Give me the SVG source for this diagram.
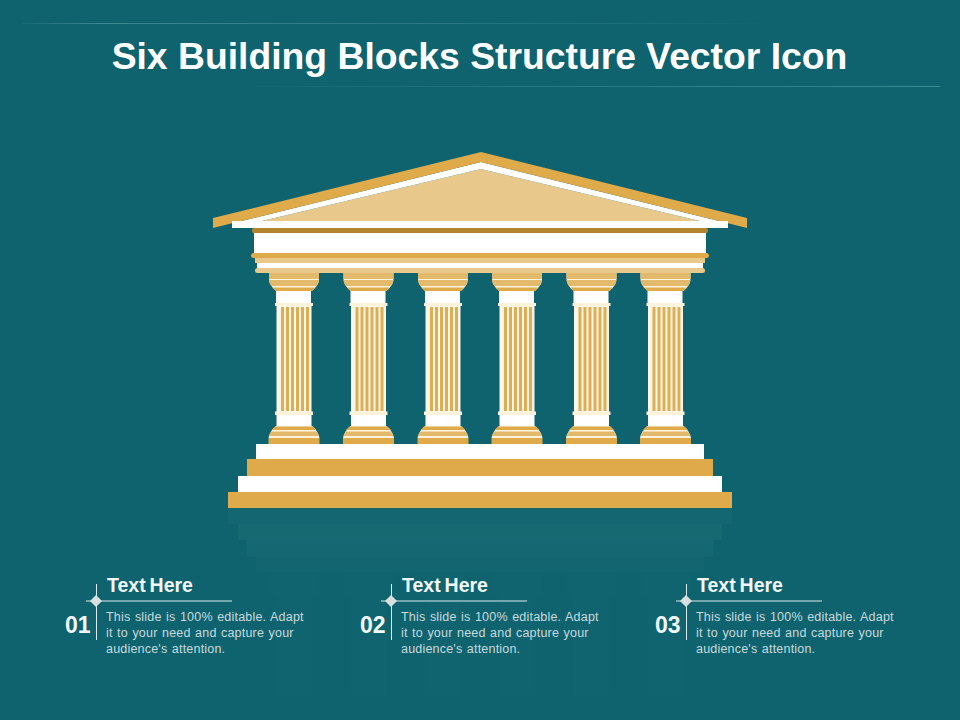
<svg xmlns="http://www.w3.org/2000/svg" xmlns:xlink="http://www.w3.org/1999/xlink" width="960" height="720" viewBox="0 0 960 720">
<style>
text{font-family:"Liberation Sans",Arial,sans-serif}
.title{font-size:37.300px;font-weight:700;fill:#fff}
.head{font-size:19.500px;font-weight:700;fill:#f2f7f7;word-spacing:-1.500px}
.num{font-size:23px;font-weight:700;fill:#f2f7f7}
.body{font-size:12.500px;fill:#c9dadd;letter-spacing:.2px;word-spacing:.8px}
.gold{fill:#deaa4a}.tan{fill:#e8c98b}.cap{fill:#e3b96c}.flute{fill:#deae55}.white{fill:#fff}.cream{fill:#fdf3dc}.dark{fill:#b5842f}
.rule{stroke:#dfeaec;stroke-width:1;fill:none}
</style>
<defs>
<linearGradient id="t1" x1="0" x2="1" y1="0" y2="0"><stop offset="0" stop-color="#3d8791" stop-opacity=".2"/><stop offset=".1" stop-color="#3d8791"/><stop offset=".8" stop-color="#3d8791" stop-opacity=".3"/><stop offset="1" stop-color="#3d8791" stop-opacity="0"/></linearGradient>
<linearGradient id="t2" x1="0" x2="1" y1="0" y2="0"><stop offset="0" stop-color="#3d8791" stop-opacity="0"/><stop offset=".4" stop-color="#3d8791" stop-opacity=".5"/><stop offset="1" stop-color="#3d8791"/></linearGradient>
<g id="col">
<path d="M-25 273H25V279Q25 285 18 291H-18Q-25 285 -25 279Z" class="cream"/>
<rect x="-25" y="273" width="50" height="6" class="cap"/>
<path d="M-25 280H25Q25 283 22.500 286H-22.500Q-25 283 -25 280Z" class="cap"/>
<path d="M-21 287.500H21L18 291H-18Z" class="gold"/>
<rect x="-18" y="291" width="35" height="12" class="white"/>
<rect x="-19" y="303" width="38" height="3" class="cream"/>
<rect x="-17.500" y="306" width="35" height="106" fill="#fdf6e6"/>
<path d="M-13 307h3v104h-3zM-8 307h3v104h-3zM-3 307h3v104h-3zM2 307h3v104h-3zM7 307h3v104h-3zM12 307h3v104h-3z" class="flute"/>
<rect x="-19" y="411.500" width="38" height="3.500" class="cream"/>
<rect x="-17.500" y="415" width="35" height="11" class="white"/>
<path d="M-18 426H18Q24 431 25.500 438H-25.500Q-24 431 -18 426Z" class="cream"/>
<path d="M-19 426.500H19L22.500 430H-22.500Z" class="gold"/>
<path d="M-22.500 431.500H22.500Q24.500 434 25 436H-25Q-24.500 434 -22.500 431.500Z" class="cap"/>
<rect x="-25.500" y="438" width="51" height="6" class="gold"/>
</g>
<g id="colr">
<rect x="-25" y="573" width="50" height="22"/>
<rect x="-18" y="595" width="36" height="100"/>
</g>
</defs>
<rect id="background" width="960" height="720" fill="#0e636f"/>
<g id="reflection">
<rect x="228" y="508" width="504" height="16" fill="#146670"/>
<rect x="238" y="524" width="484" height="16" fill="#166871"/>
<rect x="247" y="540" width="466" height="17" fill="#156771"/>
<rect x="256" y="557" width="448" height="15" fill="#136670"/>
<g fill="#106470">
<use xlink:href="#colr" x="294"/><use xlink:href="#colr" x="368.500"/><use xlink:href="#colr" x="443"/><use xlink:href="#colr" x="517"/><use xlink:href="#colr" x="591.500"/><use xlink:href="#colr" x="665.500"/>
</g>
</g>
<g id="title-block">
<rect x="22" y="23" width="760" height="1" fill="url(#t1)"/>
<rect x="220" y="86" width="720" height="1" fill="url(#t2)"/>
<text class="title" x="479.500" y="69" text-anchor="middle">Six Building Blocks Structure Vector Icon</text>
</g>
<g id="temple">
<g id="columns">
<use xlink:href="#col" x="294"/><use xlink:href="#col" x="368.500"/><use xlink:href="#col" x="443"/><use xlink:href="#col" x="517"/><use xlink:href="#col" x="591.500"/><use xlink:href="#col" x="665.500"/>
</g>
<g id="roof">
<path d="M262 221L481 169L700 221Z" class="tan"/>
<path d="M232 223.300L481 162L728 223.300V226H232ZM262 221H700L481 169Z" class="white" fill-rule="evenodd"/>
<path d="M213 218L481 152L747 218V228L728 223.300L481 162L232 223.300L213 228Z" class="gold"/>
<rect x="232" y="221" width="496" height="7" class="white"/>
</g>
<g id="entablature">
<rect x="252" y="228" width="456" height="5" rx="2" class="dark"/>
<rect x="254" y="233" width="452" height="20" class="white"/>
<rect x="251" y="253" width="458" height="5" rx="2.500" class="gold"/>
<rect x="255" y="258" width="450" height="5" class="tan"/>
<rect x="257" y="263" width="446" height="5" class="white"/>
<rect x="255" y="268" width="450" height="5" rx="2.500" class="tan"/>
</g>
<g id="steps">
<rect x="256" y="444" width="448" height="15" class="white"/>
<rect x="247" y="459" width="466" height="17" class="gold"/>
<rect x="238" y="476" width="484" height="16" class="white"/>
<rect x="228" y="492" width="504" height="16" class="gold"/>
</g>
</g>
<g id="item-01">
<path class="rule" d="M96.500 584V640M86 601H232"/>
<path d="M96 595L102 601L96 607L90 601Z" fill="#d8dfe0"/>
<text class="head" x="107" y="592">Text Here</text>
<text class="num" x="65" y="633">01</text>
<text class="body"><tspan x="106" y="621">This slide is 100% editable. Adapt</tspan><tspan x="106" y="637">it to your need and capture your</tspan><tspan x="106" y="653">audience's attention.</tspan></text>
</g>
<g id="item-02">
<path class="rule" d="M391.500 584V640M381 601H527"/>
<path d="M391 595L397 601L391 607L385 601Z" fill="#d8dfe0"/>
<text class="head" x="402" y="592">Text Here</text>
<text class="num" x="360" y="633">02</text>
<text class="body"><tspan x="401" y="621">This slide is 100% editable. Adapt</tspan><tspan x="401" y="637">it to your need and capture your</tspan><tspan x="401" y="653">audience's attention.</tspan></text>
</g>
<g id="item-03">
<path class="rule" d="M686.500 584V640M676 601H822"/>
<path d="M686 595L692 601L686 607L680 601Z" fill="#d8dfe0"/>
<text class="head" x="697" y="592">Text Here</text>
<text class="num" x="655" y="633">03</text>
<text class="body"><tspan x="696" y="621">This slide is 100% editable. Adapt</tspan><tspan x="696" y="637">it to your need and capture your</tspan><tspan x="696" y="653">audience's attention.</tspan></text>
</g>
</svg>
